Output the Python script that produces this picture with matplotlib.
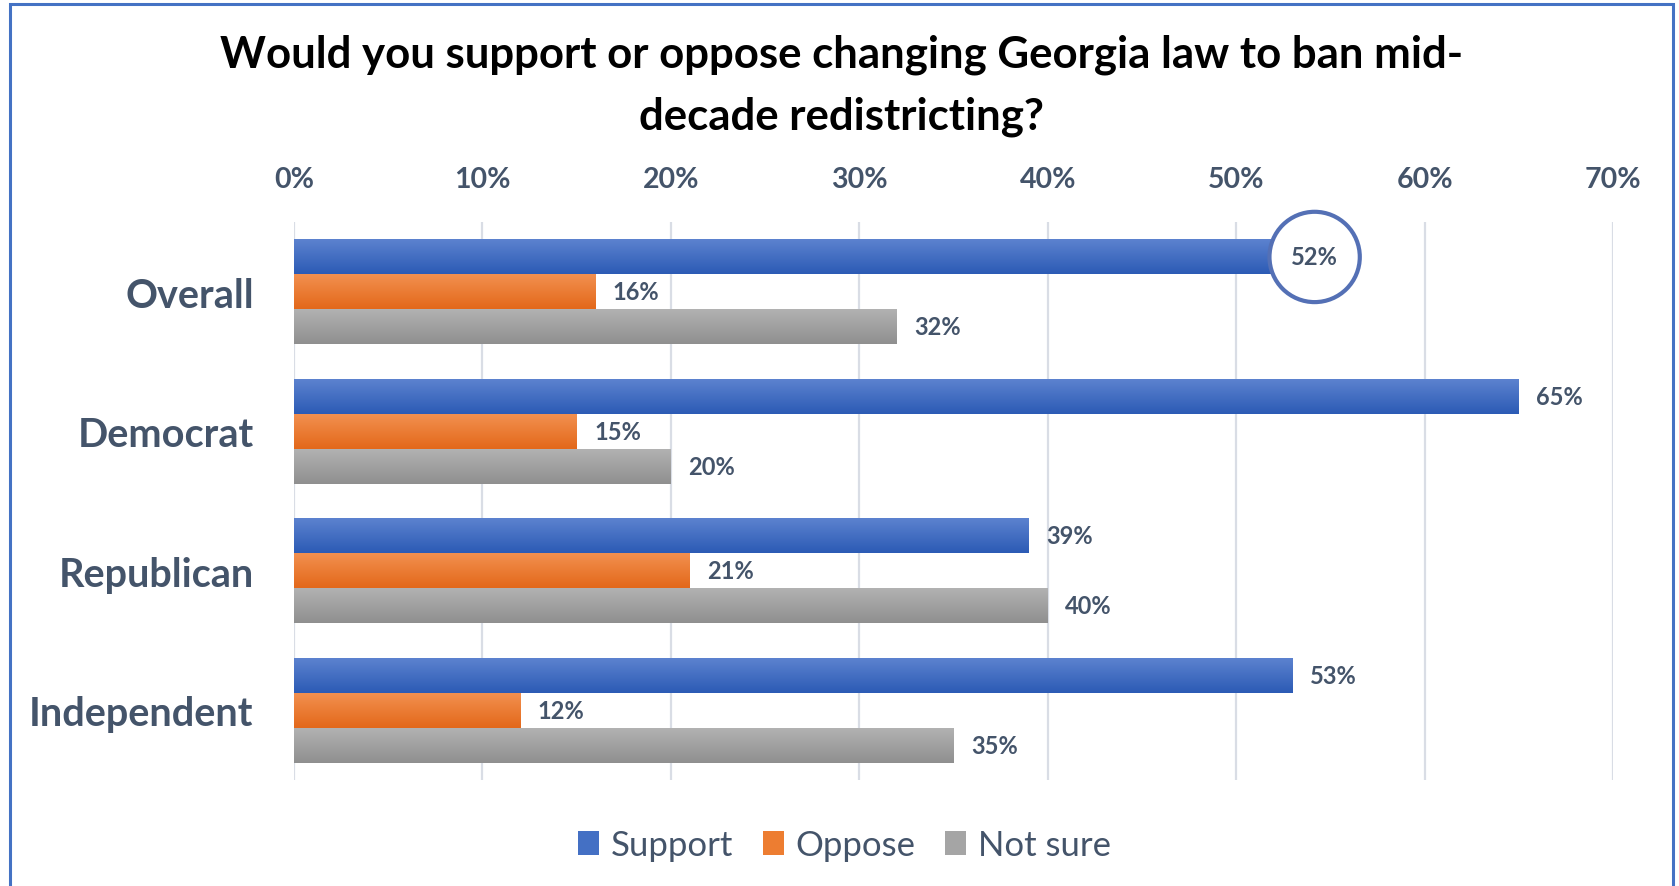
"""
Georgia poll: support / oppose a ban on mid-decade redistricting, by party.
Horizontal grouped bars with a soft vertical gradient, Office-style.
"""

import numpy as np
import matplotlib
matplotlib.use("Agg")
from matplotlib import pyplot as plt
from matplotlib.colors import LinearSegmentedColormap
from matplotlib.patches import Rectangle, Patch

# ------------------------------------
# Data

categories = ["Overall", "Democrat", "Republican", "Independent"]
support = [52, 65, 39, 53]
oppose = [16, 15, 21, 12]
not_sure = [32, 20, 40, 35]
series_names = ["Support", "Oppose", "Not sure"]
xticks = [0, 10, 20, 30, 40, 50, 60, 70]
title = "Would you support or oppose changing Georgia law to ban mid-\ndecade redistricting?"

# ------------------------------------
# Styles

plt.rcParams['font.family'] = ['Lato', 'DejaVu Sans']
TEXT = '#44546A'
grads = [('#5C82CF', '#2C5BB5'), ('#F2904F', '#E3681A'), ('#B2B2B2', '#8F8F8F')]
mids = ['#4470C4', '#ED7D31', '#A5A5A5']
bar_h = 0.25

fig = plt.figure(figsize=(16.79, 8.87), dpi=100)
ax = fig.add_axes([0.1751, 0.1195, 0.7856, 0.629])

ypos = np.arange(len(categories))
offsets = [-bar_h, 0, bar_h]
grad = np.linspace(0, 1, 64).reshape(-1, 1)

for k, vals in enumerate([support, oppose, not_sure]):
    bars = ax.barh(ypos + offsets[k], vals, height=bar_h, color='none', zorder=2)
    cmap = LinearSegmentedColormap.from_list('g%d' % k, grads[k])
    for b, v in zip(bars, vals):
        x0, y0, w, h = b.get_x(), b.get_y(), b.get_width(), b.get_height()
        # row 0 (light) sits at the visual top because the y axis is inverted
        ax.imshow(grad, cmap=cmap, extent=(x0, x0 + w, y0 + h, y0),
                  aspect='auto', origin='upper', zorder=2)
        label_kw = dict(xy=(x0 + w, y0 + h / 2), xytext=(12.5, 0), textcoords='offset points',
                        ha='left', va='center', fontsize=17, fontweight='bold',
                        color=TEXT, zorder=6)
        if k == 0 and b is bars[0]:
            # the highlighted "Overall" support value
            label_kw['bbox'] = dict(boxstyle='circle,pad=0.92', fc='white', ec='#5470B5', lw=3)
        ax.annotate('{:d}%'.format(v), **label_kw)

# cosmetics
ax.set_xlim(0, 70)
ax.set_ylim(len(categories) - 0.5, -0.5)
ax.set_xticks(xticks)
ax.set_xticklabels(['{:d}%'.format(t) for t in xticks])
ax.xaxis.tick_top()
ax.set_yticks(ypos)
ax.set_yticklabels(categories)
ax.tick_params(axis='x', length=0, pad=22, labelsize=20.5, labelcolor=TEXT)
ax.tick_params(axis='y', length=0, pad=29, labelsize=28.5, labelcolor=TEXT)
for lab in ax.get_xticklabels() + ax.get_yticklabels():
    lab.set_fontweight('bold')
ax.grid(axis='x', color='#D9DDE5', lw=1.6, zorder=0)
ax.set_axisbelow(True)
for s in ax.spines.values():
    s.set_visible(False)

fig.text(0.501, 0.9034, title, ha='center', va='center', fontsize=31.5,
         fontweight='bold', color='black', linespacing=1.65)

handles = [Patch(facecolor=c, edgecolor='none') for c in mids]
ax.legend(handles, series_names, loc='center', bbox_to_anchor=(0.503, 0.046),
          bbox_transform=fig.transFigure, ncol=3, frameon=False, fontsize=25,
          handlelength=0.6, handleheight=0.68, handletextpad=0.35,
          columnspacing=0.85, labelcolor=TEXT)

# outer chart border (bottom edge is cut off in the original)
fig.add_artist(Rectangle((0.00566, -0.05), 0.99047, 0.9947 + 0.05, fill=False,
                         ec='#4472C4', lw=2.2, transform=fig.transFigure))

fig.savefig('out.png', dpi=100)
